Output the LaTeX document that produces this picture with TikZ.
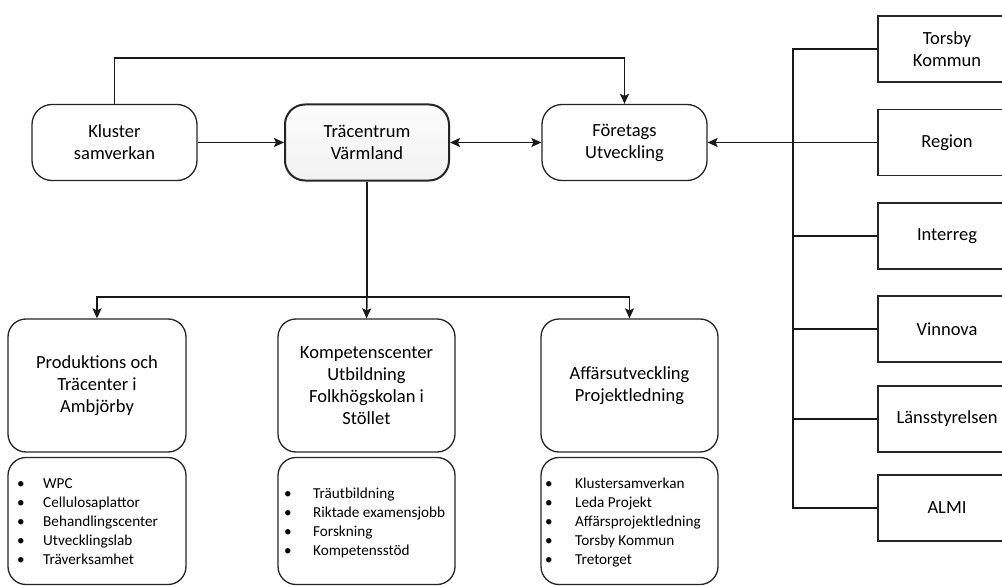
\documentclass[tikz,border=0pt]{standalone}
\usepackage{fontspec}
\setmainfont{Carlito}
\usetikzlibrary{arrows.meta}
\begin{document}
\begin{tikzpicture}[x=1pt,y=-1pt,
  lines/.style={draw=black!90, line width=1.5pt},
  tip/.tip={Stealth[length=10pt,width=9pt,inset=2pt]},
  arr/.style={lines, -tip},
  darr/.style={lines, tip-tip},
  titlefont/.style={font=\fontsize{18.5}{22}\selectfont},
  topbox/.style={draw=black!85, line width=1.3pt, rounded corners=20pt, minimum width=165pt, minimum height=76pt, align=center, inner sep=0pt, titlefont},
  midbox/.style={draw=black!85, line width=1.3pt, rounded corners=18pt, minimum width=177pt, minimum height=133pt, align=center, inner sep=0pt, titlefont},
  listbox/.style={draw=black!85, line width=1.3pt, rounded corners=18pt, minimum width=177pt, minimum height=127pt, inner sep=0pt},
  listtext/.style={anchor=west, inner sep=0pt, align=left, font=\fontsize{15.2}{19}\selectfont},
  sidebox/.style={draw=black!85, line width=1.3pt, minimum width=138pt, minimum height=66pt, align=center, inner sep=0pt, titlefont}
]
\clip (0,0) rectangle (1002,586);
\fill[white] (0,0) rectangle (1002,586);

% top row
\node[topbox] (K) at (114.5,142.5) {Kluster\\samverkan};
\node[topbox, line width=2pt, top color=gray!2, bottom color=gray!11, minimum width=164pt] (T) at (367,142.5) {Träcentrum\\Värmland};
\node[topbox] (F) at (624.5,142.5) {Företags\\Utveckling};

% side boxes
\node[sidebox] (S1) at (947,49) {Torsby\\Kommun};
\node[sidebox] (S2) at (947,142.5) {Region};
\node[sidebox] (S3) at (947,236) {Interreg};
\node[sidebox] (S4) at (947,329) {Vinnova};
\node[sidebox] (S5) at (947,419) {Länsstyrelsen};
\node[sidebox] (S6) at (947,508) {ALMI};

% middle boxes
\node[midbox, minimum width=178pt] (P) at (97,385.5) {Produktions och\\Träcenter i\\Ambjörby};
\node[midbox] (C) at (366.5,385.5) {Kompetenscenter\\Utbildning\\Folkhögskolan i\\Stöllet};
\node[midbox] (A) at (629.5,385.5) {Affärsutveckling\\Projektledning};

% list boxes
\node[listbox, minimum width=178pt] (PL) at (97,521) {};
\node[listbox] (CL) at (366.5,521) {};
\node[listbox] (AL) at (629.5,521) {};

\node[listtext] (PLt) at (17,523) {\begin{tabular}{@{}p{26pt}@{}l@{}}
\textbullet & WPC\\
\textbullet & Cellulosaplattor\\
\textbullet & Behandlingscenter\\
\textbullet & Utvecklingslab\\
\textbullet & Träverksamhet
\end{tabular}};
\node[listtext] (CLt) at (284,523) {\begin{tabular}{@{}p{29pt}@{}l@{}}
\textbullet & Träutbildning\\
\textbullet & Riktade examensjobb\\
\textbullet & Forskning\\
\textbullet & Kompetensstöd
\end{tabular}};
\node[listtext] (ALt) at (545,523) {\begin{tabular}{@{}p{30pt}@{}l@{}}
\textbullet & Klustersamverkan\\
\textbullet & Leda Projekt\\
\textbullet & Affärsprojektledning\\
\textbullet & Torsby Kommun\\
\textbullet & Tretorget
\end{tabular}};

% connectors top
\coordinate (topy) at (0,58);
\draw[arr] (K.north) -- (K.north |- topy) -| (F.north);
\draw[arr] (K.east) -- (T.west);
\draw[darr] (T.east) -- (F.west);

% side bus
\coordinate (vx) at (793,0);
\draw[lines] (S1.west) -| (S6.west -| vx) -- (S6.west);
\draw[arr] (S2.west) -- (F.east);
\draw[lines] (S3.west) -- (S3.west -| vx);
\draw[lines] (S4.west) -- (S4.west -| vx);
\draw[lines] (S5.west) -- (S5.west -| vx);

% down tree
\coordinate (hub) at (367,297);
\draw[lines] (T.south) -- (hub);
\draw[arr] (hub) -| (P.north);
\draw[arr] (hub) -- (C.north);
\draw[arr] (hub) -| (A.north);
\end{tikzpicture}
\end{document}
